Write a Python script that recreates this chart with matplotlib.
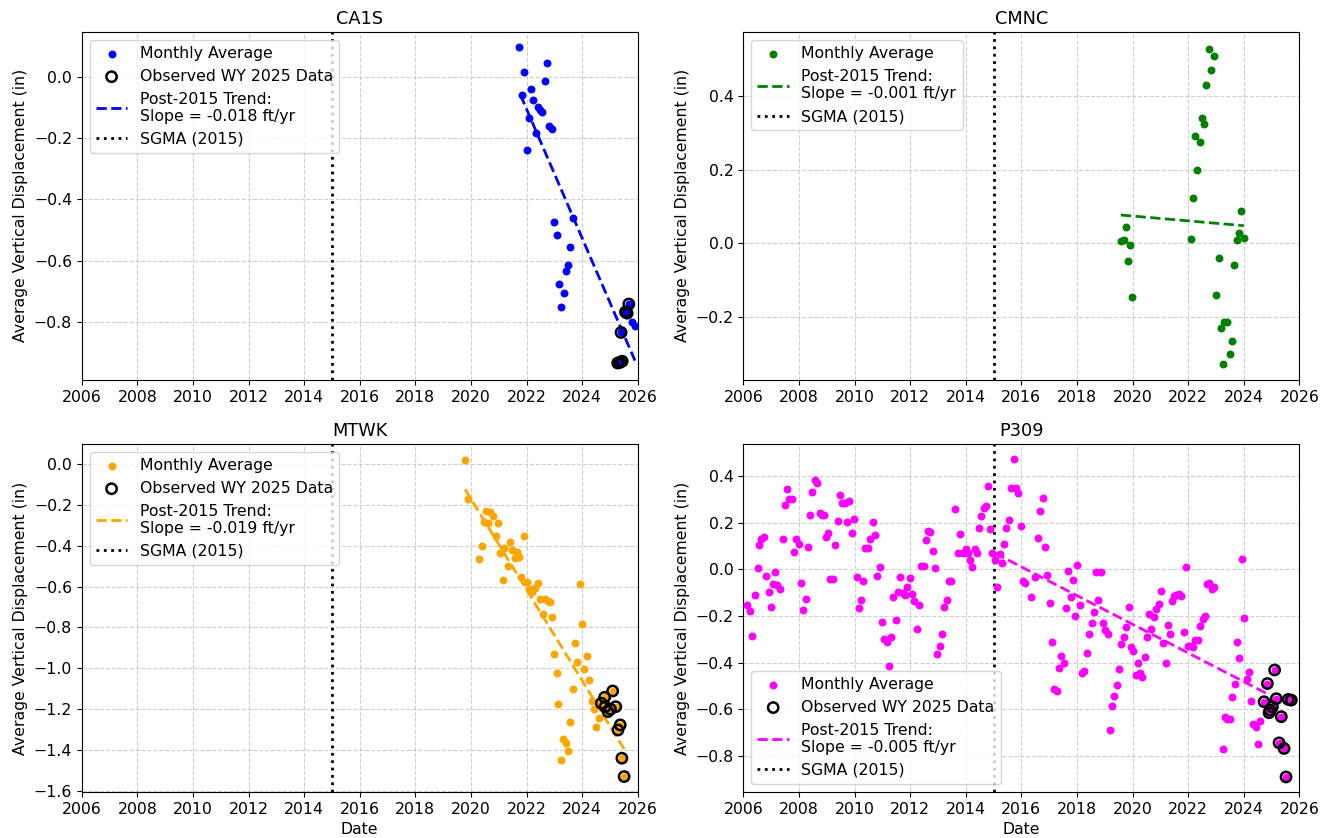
import numpy as np
import matplotlib
matplotlib.use("Agg")
import matplotlib.pyplot as plt

plt.rcParams['font.size'] = 11.3

# decimal years / monthly average vertical displacement (in)
ca1s_t = [2021.74, 2021.84, 2021.90, 2022.00, 2022.09, 2022.16, 2022.24, 2022.33, 2022.40,
          2022.48, 2022.57, 2022.66, 2022.74, 2022.82, 2022.90, 2023.00, 2023.08, 2023.16,
          2023.24, 2023.33, 2023.41, 2023.48, 2023.58, 2023.66, 2025.79, 2025.90]
ca1s_v = [0.098, -0.058, 0.018, -0.237, -0.134, -0.038, -0.076, -0.183, -0.098,
          -0.107, -0.113, -0.012, 0.045, -0.161, -0.170, -0.475, -0.517, -0.677,
          -0.753, -0.705, -0.634, -0.614, -0.554, -0.462, -0.802, -0.813]
ca1s_obs_t = [2025.28, 2025.36, 2025.44, 2025.40, 2025.56, 2025.62, 2025.68]
ca1s_obs_v = [-0.935, -0.933, -0.929, -0.835, -0.768, -0.772, -0.742]
ca1s_trend_t = [2021.78, 2025.90]
ca1s_trend_v = [-0.058, -0.927]

cmnc_t = [2019.58, 2019.68, 2019.75, 2019.83, 2019.90, 2019.99, 2022.10, 2022.16, 2022.26,
          2022.32, 2022.41, 2022.50, 2022.58, 2022.65, 2022.76, 2022.83, 2022.92, 2022.99,
          2023.10, 2023.17, 2023.25, 2023.30, 2023.40, 2023.50, 2023.59, 2023.66, 2023.76,
          2023.83, 2023.91, 2024.01]
cmnc_v = [0.005, 0.009, 0.044, -0.049, -0.005, -0.147, 0.012, 0.123, 0.292,
          0.200, 0.277, 0.342, 0.325, 0.431, 0.530, 0.471, 0.510, -0.142,
          -0.040, -0.230, -0.330, -0.214, -0.214, -0.302, -0.265, -0.059, 0.008,
          0.027, 0.089, 0.014]
cmnc_trend_t = [2019.58, 2024.00]
cmnc_trend_v = [0.077, 0.048]

mtwk_t = [2019.79, 2019.88, 2020.30, 2020.40, 2020.46, 2020.56, 2020.63, 2020.68, 2020.79,
          2020.91, 2020.98, 2021.06, 2021.15, 2021.18, 2021.32, 2021.40, 2021.49, 2021.58,
          2021.67, 2021.74, 2021.81, 2021.90, 2022.01, 2022.09, 2022.18, 2022.32, 2022.41,
          2022.49, 2022.58, 2022.66, 2022.76, 2022.84, 2022.91, 2023.00, 2023.09, 2023.15,
          2023.24, 2023.32, 2023.41, 2023.49, 2023.58, 2023.66, 2023.75, 2023.83, 2023.92,
          2024.00, 2024.08, 2024.17, 2024.25, 2024.34, 2024.42, 2024.51, 2024.59]
mtwk_v = [0.02, -0.17, -0.463, -0.401, -0.284, -0.23, -0.287, -0.234, -0.254,
          -0.352, -0.289, -0.434, -0.569, -0.409, -0.501, -0.383, -0.421, -0.462,
          -0.432, -0.454, -0.555, -0.352, -0.576, -0.613, -0.625, -0.608, -0.584,
          -0.662, -0.736, -0.662, -0.672, -0.677, -0.747, -0.93, -1.024, -1.175,
          -1.449, -1.348, -1.367, -1.403, -1.263, -1.103, -0.878, -0.967, -0.587,
          -0.785, -1.002, -0.94, -1.056, -1.16, -1.2, -1.289, -1.245]
mtwk_obs_t = [2024.69, 2024.81, 2024.83, 2024.93, 2025.02, 2025.10, 2025.21, 2025.29,
              2025.37, 2025.43, 2025.51]
mtwk_obs_v = [-1.171, -1.142, -1.188, -1.212, -1.20, -1.111, -1.188, -1.302,
              -1.277, -1.440, -1.530]
mtwk_trend_t = [2019.79, 2025.53]
mtwk_trend_v = [-0.124, -1.40]

p309_t = [2006.13, 2006.24, 2006.32, 2006.41, 2006.51, 2006.57, 2006.65, 2006.74, 2006.81,
          2006.91, 2007.01, 2007.07, 2007.15, 2007.22, 2007.31, 2007.41, 2007.49, 2007.57,
          2007.65, 2007.74, 2007.82, 2007.90, 2007.99, 2008.07, 2008.15, 2008.24, 2008.32,
          2008.39, 2008.47, 2008.56, 2008.66, 2008.74, 2008.82, 2008.90, 2008.98, 2009.06,
          2009.13, 2009.23, 2009.31, 2009.40, 2009.48, 2009.56, 2009.65, 2009.73, 2009.81,
          2009.90, 2009.99, 2010.07, 2010.15, 2010.23, 2010.32, 2010.39, 2010.47, 2010.56,
          2010.65, 2010.73, 2010.81, 2010.90, 2010.98, 2011.06, 2011.15, 2011.23, 2011.32,
          2011.39, 2011.48, 2011.56, 2011.64, 2011.73, 2011.81, 2011.88, 2011.98, 2012.07,
          2012.14, 2012.23, 2012.31, 2012.40, 2012.48, 2012.56, 2012.63, 2012.73, 2012.81,
          2012.90, 2012.98, 2013.06, 2013.14, 2013.23, 2013.31, 2013.39, 2013.48, 2013.63,
          2013.73, 2013.81, 2013.91, 2014.00, 2014.08, 2014.15, 2014.24, 2014.32, 2014.40,
          2014.47, 2014.54, 2014.64, 2014.71, 2014.80, 2014.86, 2014.96, 2015.05, 2015.14,
          2015.22, 2015.31, 2015.39, 2015.46, 2015.54, 2015.62, 2015.72, 2015.80, 2015.88,
          2015.98, 2016.06, 2016.14, 2016.35, 2016.50, 2016.59, 2016.68, 2016.77, 2016.85,
          2016.93, 2017.02, 2017.11, 2017.19, 2017.27, 2017.35, 2017.44, 2017.52, 2017.60,
          2017.69, 2017.77, 2017.86, 2017.94, 2018.01, 2018.11, 2018.19, 2018.26, 2018.35,
          2018.44, 2018.53, 2018.60, 2018.68, 2018.77, 2018.85, 2018.93, 2019.02, 2019.10,
          2019.19, 2019.27, 2019.35, 2019.44, 2019.52, 2019.60, 2019.69, 2019.77, 2019.86,
          2019.93, 2020.02, 2020.11, 2020.18, 2020.26, 2020.35, 2020.43, 2020.51, 2020.60,
          2020.68, 2020.78, 2020.86, 2020.95, 2021.02, 2021.10, 2021.19, 2021.26, 2021.34,
          2021.41, 2021.50, 2021.58, 2021.66, 2021.76, 2021.86, 2021.93, 2022.00, 2022.10,
          2022.18, 2022.25, 2022.34, 2022.43, 2022.52, 2022.59, 2022.67, 2022.75, 2022.84,
          2022.92, 2023.27, 2023.34, 2023.41, 2023.50, 2023.59, 2023.68, 2023.76, 2023.84,
          2023.92, 2024.02, 2024.11, 2024.19, 2024.26, 2024.35, 2024.43, 2024.51, 2024.60]
p309_v = [-0.153, -0.177, -0.286, -0.111, 0.006, 0.106, 0.131, 0.137, -0.030,
          -0.096, -0.163, -0.063, -0.010, -0.067, -0.084, 0.131, 0.276, 0.343,
          0.301, 0.301, 0.076, 0.130, 0.110, -0.057, -0.174, -0.127, 0.097,
          0.234, 0.333, 0.384, 0.369, 0.239, 0.234, 0.234, 0.140, 0.157,
          -0.043, -0.043, 0.103, 0.207, 0.320, 0.283, 0.283, 0.204, 0.293,
          0.157, 0.214, -0.034, -0.167, -0.133, -0.050, 0.093, 0.093, 0.129,
          0.204, 0.146, -0.029, 0.011, -0.224, -0.300, -0.311, -0.414, -0.289,
          -0.120, -0.217, -0.096, -0.034, -0.100, -0.111, -0.074, -0.039, -0.106,
          -0.137, -0.256, -0.153, 0.014, 0.014, 0.126, 0.166, 0.160, 0.077,
          0.007, -0.363, -0.329, -0.277, -0.163, -0.131, -0.050, -0.050, 0.257,
          0.069, 0.150, 0.069, 0.086, 0.071, 0.040, 0.009, 0.089, 0.069,
          0.176, 0.229, 0.261, 0.269, 0.357, 0.171, 0.069, 0.040, -0.074,
          0.066, 0.026, 0.107, 0.176, 0.211, 0.347, 0.471, 0.347, 0.326,
          0.186, -0.049, -0.060, -0.120, -0.034, 0.133, 0.251, 0.307, 0.094,
          -0.024, -0.146, -0.310, -0.514, -0.523, -0.421, -0.371, -0.403, -0.167,
          -0.007, -0.117, -0.047, -0.200, 0.017, -0.153, -0.446, -0.434, -0.357,
          -0.279, -0.231, -0.181, -0.010, -0.131, -0.010, -0.229, -0.260, -0.277,
          -0.689, -0.586, -0.543, -0.497, -0.427, -0.320, -0.291, -0.249, -0.163,
          -0.331, -0.349, -0.453, -0.400, -0.446, -0.463, -0.377, -0.289, -0.191,
          -0.256, -0.203, -0.171, -0.150, -0.093, -0.317, -0.400, -0.240, -0.277,
          -0.134, -0.114, -0.110, -0.107, -0.114, -0.269, 0.011, -0.329, -0.329,
          -0.334, -0.303, -0.303, -0.243, -0.214, -0.200, -0.063, -0.060, -0.086,
          -0.074, -0.771, -0.634, -0.639, -0.639, -0.546, -0.489, -0.310, -0.379,
          0.046, -0.210, -0.471, -0.439, -0.563, -0.663, -0.677, -0.750, -0.650]
p309_obs_t = [2024.73, 2024.85, 2024.91, 2024.95, 2025.03, 2025.11, 2025.17, 2025.27,
              2025.35, 2025.45, 2025.52, 2025.60, 2025.71]
p309_obs_v = [-0.567, -0.489, -0.614, -0.603, -0.589, -0.431, -0.554, -0.743,
              -0.631, -0.767, -0.889, -0.557, -0.560]
p309_trend_t = [2015.05, 2024.80]
p309_trend_v = [0.069, -0.530]

stations = ["CA1S", "CMNC", "MTWK", "P309"]
colors = ["blue", "green", "orange", "magenta"]
slopes = ["-0.018", "-0.001", "-0.019", "-0.005"]
sgma_year = 2015.0


def plot_station(ax, name, color, slope, t, v, obs_t, obs_v, tr_t, tr_v, ylim, loc, bottom):
  ax.scatter(t + obs_t, v + obs_v, s=22, color=color, label="Monthly Average", zorder=3)
  if len(obs_t) > 0:
    ax.scatter(obs_t, obs_v, s=55, facecolors="none", edgecolors="black", linewidths=1.8,
               label="Observed WY 2025 Data", zorder=4)
  ax.plot(tr_t, tr_v, "--", color=color, lw=2, label=f"Post-2015 Trend:\nSlope = {slope} ft/yr", zorder=3)
  ax.axvline(sgma_year, color="black", ls=":", lw=2, label="SGMA (2015)")
  ax.set_xlim(2006, 2026)
  ax.set_xticks(range(2006, 2027, 2))
  ax.set_ylim(*ylim)
  ax.grid(True, linestyle="--", alpha=0.6)
  ax.set_title(name, fontsize=12.8)
  ax.set_ylabel("Average Vertical Displacement (in)")
  if bottom:
    ax.set_xlabel("Date")
  ax.legend(loc=loc)


fig, axes = plt.subplots(2, 2, figsize=(13.29, 8.38), dpi=100)
plt.subplots_adjust(left=0.0615, right=0.9777, top=0.962, bottom=0.055, wspace=0.19, hspace=0.184)

plot_station(axes[0, 0], stations[0], colors[0], slopes[0], ca1s_t, ca1s_v, ca1s_obs_t, ca1s_obs_v,
             ca1s_trend_t, ca1s_trend_v, (-0.99, 0.148), "upper left", False)
plot_station(axes[0, 1], stations[1], colors[1], slopes[1], cmnc_t, cmnc_v, [], [],
             cmnc_trend_t, cmnc_trend_v, (-0.372, 0.576), "upper left", False)
plot_station(axes[1, 0], stations[2], colors[2], slopes[2], mtwk_t, mtwk_v, mtwk_obs_t, mtwk_obs_v,
             mtwk_trend_t, mtwk_trend_v, (-1.605, 0.098), "upper left", True)
plot_station(axes[1, 1], stations[3], colors[3], slopes[3], p309_t, p309_v, p309_obs_t, p309_obs_v,
             p309_trend_t, p309_trend_v, (-0.953, 0.537), "lower left", True)

plt.savefig("out.png", dpi=100)
